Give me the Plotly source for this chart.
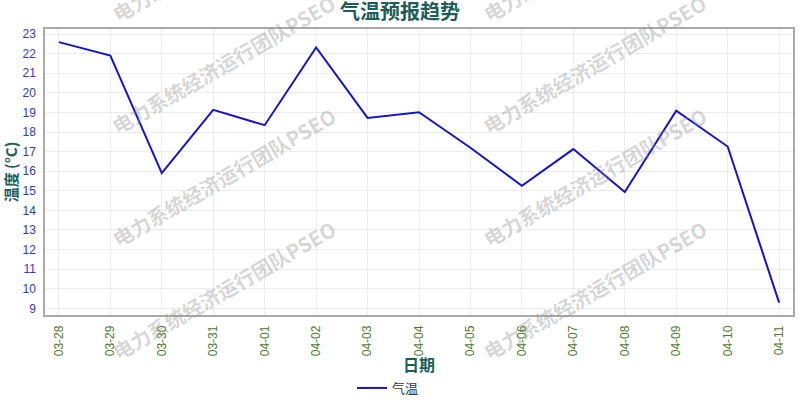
import plotly.graph_objects as go

dates = ["03-28", "03-29", "03-30", "03-31", "04-01", "04-02", "04-03", "04-04",
         "04-05", "04-06", "04-07", "04-08", "04-09", "04-10", "04-11"]
temps = [22.59, 21.90, 15.90, 19.13, 18.35, 22.32, 18.72, 19.01,
         17.20, 15.26, 17.13, 14.94, 19.09, 17.26, 9.29]
y_ticks = list(range(9, 24))

W, H = 800, 400
L, R, T, B = 45, 7, 29, 85
pw, ph = W - L - R, H - T - B

CJK = "Noto Sans CJK SC"
LAT = "Liberation Sans, Noto Sans CJK SC"
TEAL = "#1d5e57"

fig = go.Figure()
fig.add_trace(go.Scatter(
    x=dates, y=temps, mode="lines", name="气温",
    line=dict(color="#1414d0", width=2),
))

# watermark grid (pixel centres)
wm_cols = [223, 594]
wm_rows = [-48, 65, 177, 290]
annotations = []
for cx in wm_cols:
    for cy in wm_rows:
        annotations.append(dict(
            text="<b>电力系统经济运行团队PSEO</b>",
            xref="paper", yref="paper",
            x=(cx - L) / pw, y=(H - B - cy) / ph,
            xanchor="center", yanchor="middle",
            textangle=-30, showarrow=False,
            font=dict(family=CJK, size=20, color="rgba(140,140,140,0.36)"),
        ))

# x-axis title placed as an annotation for exact position
annotations.append(dict(
    text="<b>日期</b>", xref="paper", yref="paper",
    x=0.5, y=(H - B - 364) / ph,
    xanchor="center", yanchor="middle", showarrow=False,
    font=dict(family=CJK, size=16, color=TEAL),
))

fig.update_layout(
    width=W, height=H, autosize=False,
    margin=dict(l=L, r=R, t=T, b=B, autoexpand=False),
    paper_bgcolor="white", plot_bgcolor="white",
    title=dict(text="<b>气温预报趋势</b>", x=0.5, xanchor="center",
               y=1 - 12 / H, yanchor="middle", yref="container",
               font=dict(family=CJK, size=20, color=TEAL)),
    xaxis=dict(
        type="category", range=[-0.27, 14.27], automargin=False,
        tickangle=-90, tickfont=dict(family=LAT, size=12, color="#4e7a2c"),
        showgrid=True, gridcolor="#ececec", gridwidth=1,
        showline=True, mirror=True, linecolor="#aaaaaa", linewidth=1.5,
        ticks="", ticklabelstandoff=4,
    ),
    yaxis=dict(
        range=[8.66, 23.26], tickvals=y_ticks, automargin=False,
        tickfont=dict(family=LAT, size=12, color="#3535d0"),
        showgrid=True, gridcolor="#ececec", gridwidth=1,
        showline=True, mirror=True, linecolor="#aaaaaa", linewidth=1.5,
        ticks="", ticklabelstandoff=5, zeroline=False,
        title=dict(text="<b>温度 (°C)</b>", standoff=4,
                   font=dict(family=CJK, size=15, color=TEAL)),
    ),
    legend=dict(orientation="h", x=(388 - L) / pw, xanchor="center",
                y=(H - B - 373) / ph, yanchor="top",
                font=dict(family=CJK, size=13, color="#333333")),
    showlegend=True,
    annotations=annotations,
)

fig.write_html(
    "out.html",
    config={"displayModeBar": False},
    post_script="document.body.style.margin='0';document.body.style.padding='0';",
)
